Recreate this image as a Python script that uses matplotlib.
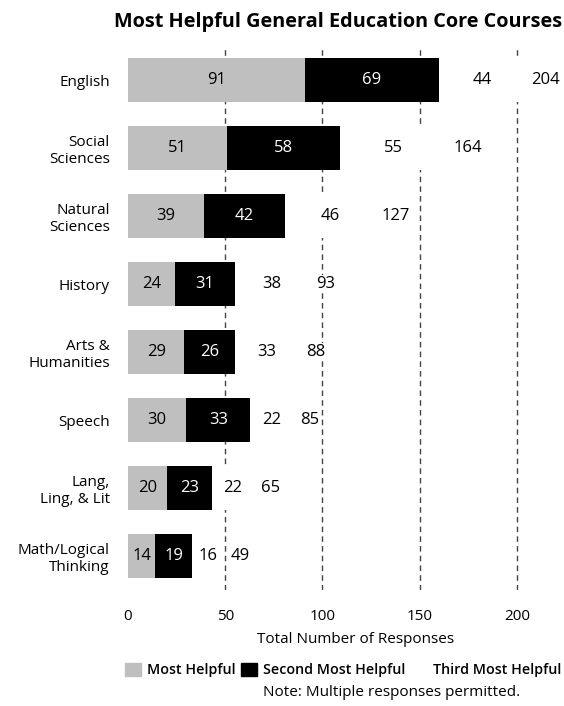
import matplotlib
matplotlib.use("Agg")
import matplotlib.pyplot as plt
import matplotlib.patches as mpatches
import numpy as np

plt.rcParams["font.family"] = ["Open Sans", "DejaVu Sans"]

courses = ["English", "Social\nSciences", "Natural\nSciences", "History",
           "Arts &\nHumanities", "Speech", "Lang,\nLing, & Lit",
           "Math/Logical\nThinking"]
most_helpful = [91, 51, 39, 24, 29, 30, 20, 14]
second_helpful = [69, 58, 42, 31, 26, 33, 23, 19]
third_helpful = [44, 55, 46, 38, 33, 22, 22, 16]
series_labels = ["Most Helpful", "Second Most Helpful", "Third Most Helpful"]
xticks = [0, 50, 100, 150, 200]

fig = plt.figure(figsize=(5.64, 7.06), dpi=100)
ax = fig.add_axes([128 / 564, 1 - 590 / 706, 418 / 564, 544 / 706])

y = np.arange(len(courses))
first = np.array(most_helpful)
second = np.array(second_helpful)
third = np.array(third_helpful)
totals = first + second + third
h = 0.66

b1 = ax.barh(y, first, height=h, color="#bfbfbf", zorder=2)
b2 = ax.barh(y, second, left=first, height=h, color="#000000", zorder=2)
b3 = ax.barh(y, third, left=first + second, height=h, color="white", zorder=2)

ax.bar_label(b1, labels=[str(v) for v in first], label_type="center",
             fontsize=12, color="black")
ax.bar_label(b2, labels=[str(v) for v in second], label_type="center",
             fontsize=12, color="white")
ax.bar_label(b3, labels=[str(v) for v in third], label_type="center",
             fontsize=12, color="black")
for yi, t in zip(y, totals):
    ax.annotate(str(t), (t, yi), xytext=(5, 0), textcoords="offset points",
                ha="left", va="center", fontsize=12, zorder=3,
                bbox=dict(facecolor="white", edgecolor="none", pad=0.5))

ax.set_xlim(0, 215)
ax.set_ylim(len(courses) - 0.5, -0.5)
ax.set_xticks(xticks)
ax.set_yticks(y)
ax.set_yticklabels(courses, fontsize=11, multialignment="right")
ax.tick_params(axis="both", length=0)
ax.tick_params(axis="x", pad=14, labelsize=11)
ax.tick_params(axis="y", pad=13)
for x in xticks[1:]:
    ax.axvline(x, color="#444444", linestyle=(0, (4, 3)), linewidth=1, zorder=1)
for s in ax.spines.values():
    s.set_visible(False)

ax.set_xlabel("Total Number of Responses", fontsize=11)
ax.xaxis.set_label_coords((356 - 128) / 418, -(632 - 590) / 544)
fig.text(338 / 564, 1 - 22 / 706, "Most Helpful General Education Core Courses",
         ha="center", va="center", fontsize=14.3, fontweight="bold")

handles = [mpatches.Patch(color="#bfbfbf", label=series_labels[0]),
           mpatches.Patch(color="#000000", label=series_labels[1]),
           mpatches.Patch(color="white", label=series_labels[2])]
fig.legend(handles=handles, loc="center", bbox_to_anchor=(343 / 564, 1 - 670 / 706),
           ncol=3, frameon=False, handlelength=1.1,
           handleheight=1.1, handletextpad=0.45, columnspacing=0.35,
           prop={"weight": "semibold", "size": 10.3})
fig.text(392 / 564, 1 - 692 / 706, "Note: Multiple responses permitted.",
         ha="center", va="center", fontsize=11)

fig.savefig("out.png", dpi=100)
